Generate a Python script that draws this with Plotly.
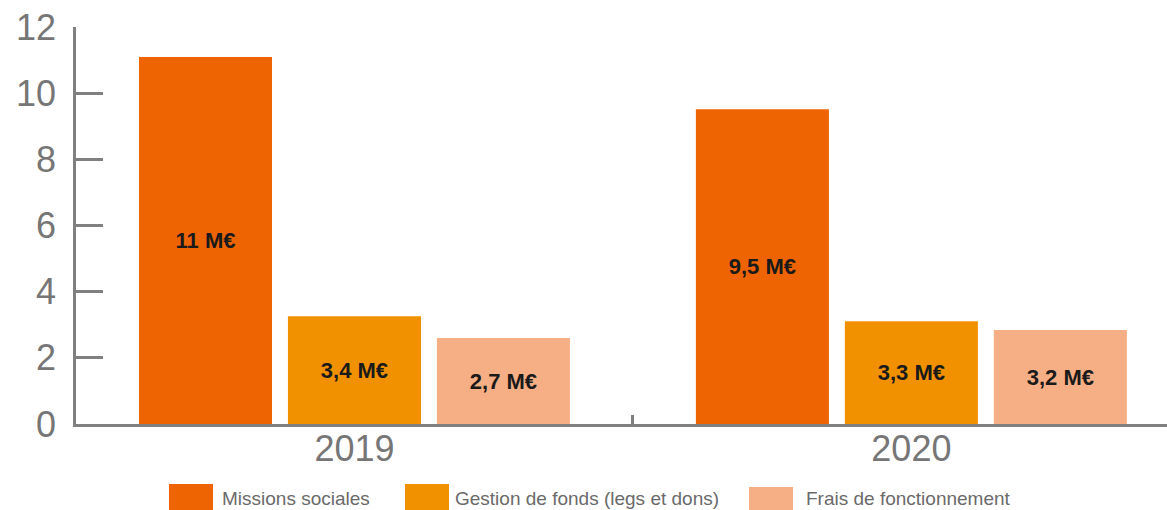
import plotly.graph_objects as go

years = ["2019", "2020"]
series_names = ["Missions sociales", "Gestion de fonds (legs et dons)", "Frais de fonctionnement"]
missions = [11.1, 9.52]
gestion = [3.26, 3.11]
frais = [2.6, 2.84]
labels_missions = ["11 M€", "9,5 M€"]
labels_gestion = ["3,4 M€", "3,3 M€"]
labels_frais = ["2,7 M€", "3,2 M€"]
colors = ["#EE6402", "#F29100", "#F6AE84"]
y_ticks = [0, 2, 4, 6, 8, 10, 12]

W, H = 1167, 510
PL, PT, PB = 76, 27, 424  # plot edges in page pixels
plot_w = W - PL
plot_h = PB - PT

fig = go.Figure()
for name, vals, labs, col in zip(series_names, [missions, gestion, frais],
                                 [labels_missions, labels_gestion, labels_frais], colors):
    fig.add_trace(go.Bar(
        x=years, y=vals, name=name, marker=dict(color=col, line=dict(width=0)),
        text=labs, textposition="inside", insidetextanchor="middle",
        textfont=dict(family="Liberation Sans", size=22, color="#1a1a1a", weight="bold"),
        showlegend=False, cliponaxis=False,
    ))

axis_col = "#808080"
fig.update_layout(
    barmode="group", bargap=0.1975, bargroupgap=0.107,
    width=W, height=H,
    margin=dict(l=PL, r=0, t=PT, b=H - PB, pad=0),
    paper_bgcolor="white", plot_bgcolor="white",
    font=dict(family="Liberation Sans", color="#7a7a7a"),
    xaxis=dict(range=[-0.5, 1.459], showline=True, linecolor=axis_col, linewidth=2.5,
               ticks="inside", tickson="boundaries", ticklen=9, tickwidth=2.5, tickcolor=axis_col,
               tickfont=dict(size=36, color="#767676"), showgrid=False, zeroline=False,
               ticklabelstandoff=-9),
    yaxis=dict(range=[0, 12.004], tickvals=y_ticks, showline=True, linecolor=axis_col, linewidth=2.5,
               ticks="inside", ticklen=27, tickwidth=2.5, tickcolor=axis_col,
               tickfont=dict(size=36, color="#767676"), showgrid=False, zeroline=False,
               ticklabelstandoff=10),
)

# custom legend with large swatches (page-pixel positions converted to paper coords)
leg_x = [169, 405, 749]
leg_y = [484, 484, 487]
leg_tx = [220, 453, 804]
for name, col, px, py, tx in zip(series_names, colors, leg_x, leg_y, leg_tx):
    fig.add_shape(type="rect", xref="paper", yref="paper",
                  x0=(px - PL) / plot_w, x1=(px + 44 - PL) / plot_w,
                  y0=(PB - py) / plot_h, y1=(PB - 520) / plot_h,
                  fillcolor=col, line=dict(width=0))
    fig.add_annotation(xref="paper", yref="paper", x=(tx - PL) / plot_w,
                       y=(PB - 499) / plot_h, text=name, showarrow=False,
                       xanchor="left", yanchor="middle",
                       font=dict(family="Liberation Sans", size=19, color="#6a6a6a"))

fig.write_html("out.html", config={"displayModeBar": False},
               post_script="document.body.style.margin='0px';document.body.style.overflow='hidden';")
